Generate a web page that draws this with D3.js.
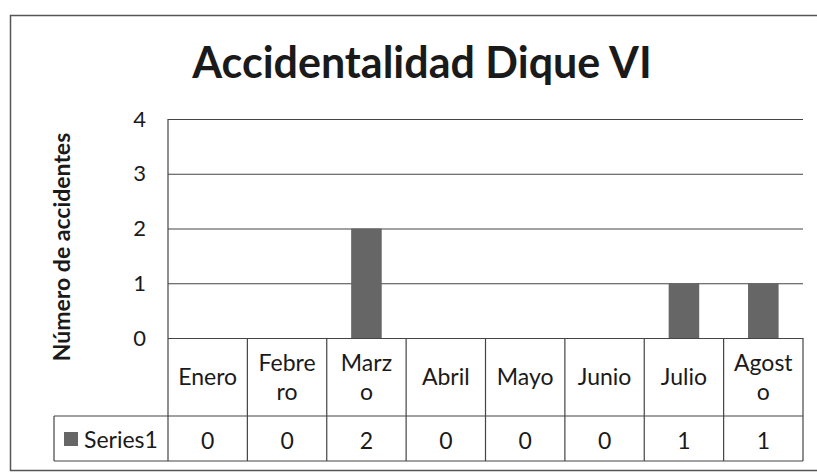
<!DOCTYPE html>
<html>
<head>
<meta charset="utf-8">
<script src="https://cdn.jsdelivr.net/npm/d3@7"></script>
<style>
  body { margin: 0; background: #fff; }
  text { font-family: Lato, "Open Sans", sans-serif; fill: #1a1a1a; }
</style>
</head>
<body>
<div class="canvas"></div>
<script>
// chart values
const months = ['Enero', 'Febrero', 'Marzo', 'Abril', 'Mayo', 'Junio', 'Julio', 'Agosto'];
// how each month label wraps inside its table cell
const monthLines = [['Enero'], ['Febre', 'ro'], ['Marz', 'o'], ['Abril'], ['Mayo'], ['Junio'], ['Julio'], ['Agost', 'o']];
const accidents = [0, 0, 2, 0, 0, 0, 1, 1];
const yTicks = [0, 1, 2, 3, 4];
const seriesName = 'Series1';

const svg = d3.select('.canvas')
    .append('svg')
    .attr('width', 817)
    .attr('height', 474);

// outer chart frame
svg.append('rect')
    .attr('x', 10.5)
    .attr('y', 15.5)
    .attr('width', 830)
    .attr('height', 455)
    .attr('fill', 'none')
    .attr('stroke', '#555')
    .attr('stroke-width', 1.5);

// title
svg.append('text')
    .attr('x', 422)
    .attr('y', 78)
    .attr('text-anchor', 'middle')
    .style('font-size', '43px')
    .style('font-weight', 'bold')
    .text('Accidentalidad Dique VI');

const plotLeft = 168, plotRight = 803, plotTop = 119, zero = 338;
const rowMid = 416, rowBottom = 461, tableLeft = 54;

const y = d3.scaleLinear()
    .domain([0, 4])
    .range([zero, plotTop]);

// one column per month for the data table
const col = d3.scaleBand()
    .domain(months)
    .range([plotLeft, plotRight]);

// bars sit centred in each column
const xBar = d3.scaleBand()
    .domain(months)
    .range([plotLeft, plotRight])
    .paddingInner(0.615)
    .paddingOuter(0.3075);

// gridlines + tick labels via the axis
const yAxis = svg.append('g')
    .attr('transform', `translate(${plotLeft},0)`)
    .call(d3.axisLeft(y)
        .tickValues(yTicks)
        .tickSize(-(plotRight - plotLeft))
        .tickPadding(22)
        .tickFormat(d3.format('d')));

yAxis.select('.domain').remove();
yAxis.selectAll('.tick line')
    .attr('stroke', '#444')
    .attr('stroke-width', 1.2);
yAxis.selectAll('.tick text')
    .style('font-size', '22px')
    .attr('fill', '#1a1a1a');

// vertical axis line down through the table
svg.append('line')
    .attr('x1', plotLeft).attr('x2', plotLeft)
    .attr('y1', plotTop).attr('y2', rowBottom)
    .attr('stroke', '#444')
    .attr('stroke-width', 1.2);

// axis title
svg.append('text')
    .attr('transform', 'translate(70,247) rotate(-90)')
    .attr('text-anchor', 'middle')
    .style('font-size', '23px')
    .style('font-weight', 'bold')
    .text('Número de accidentes');

// bars
svg.append('g')
    .selectAll('rect')
    .data(accidents)
    .enter()
    .append('rect')
    .attr('x', (d, i) => xBar(months[i]))
    .attr('width', xBar.bandwidth())
    .attr('y', d => y(d))
    .attr('height', d => y(0) - y(d))
    .attr('fill', '#666');

// data table
const table = svg.append('g')
    .attr('stroke', '#444')
    .attr('stroke-width', 1.2);

table.append('line')
    .attr('x1', tableLeft).attr('x2', plotRight)
    .attr('y1', rowMid).attr('y2', rowMid);
table.append('line')
    .attr('x1', tableLeft).attr('x2', plotRight)
    .attr('y1', rowBottom).attr('y2', rowBottom);
table.append('line')
    .attr('x1', tableLeft).attr('x2', tableLeft)
    .attr('y1', rowMid).attr('y2', rowBottom);

table.selectAll('.sep')
    .data(months)
    .enter()
    .append('line')
    .attr('class', 'sep')
    .attr('x1', d => col(d) + col.bandwidth())
    .attr('x2', d => col(d) + col.bandwidth())
    .attr('y1', zero)
    .attr('y2', rowBottom);

// month labels (wrapped like the original)
const catMid = (zero + rowMid) / 2;
svg.append('g')
    .selectAll('text')
    .data(months)
    .enter()
    .append('text')
    .attr('text-anchor', 'middle')
    .style('font-size', '23px')
    .each(function (d, i) {
        const lines = monthLines[i];
        const cx = col(d) + col.bandwidth() / 2;
        const startY = catMid + 8 - (lines.length - 1) * 14.5;
        lines.forEach((ln, k) => {
            d3.select(this).append('tspan')
                .attr('x', cx)
                .attr('y', startY + k * 29)
                .text(ln);
        });
    });

// series row: legend key + name
svg.append('rect')
    .attr('x', 64)
    .attr('y', 432)
    .attr('width', 14)
    .attr('height', 14)
    .attr('fill', '#666');

svg.append('text')
    .attr('x', 84)
    .attr('y', 448)
    .style('font-size', '23px')
    .text(seriesName);

// series values
svg.append('g')
    .selectAll('text')
    .data(accidents)
    .enter()
    .append('text')
    .attr('x', (d, i) => col(months[i]) + col.bandwidth() / 2)
    .attr('y', 449)
    .attr('text-anchor', 'middle')
    .style('font-size', '23px')
    .text(d => d);
</script>
</body>
</html>
